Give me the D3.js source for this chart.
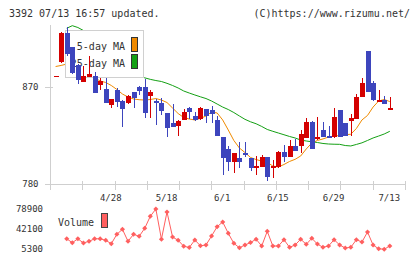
<!DOCTYPE html>
<html>
<head>
<meta charset="utf-8">
<title>3392 chart</title>
<script src="https://d3js.org/d3.v7.min.js"></script>
<style>
  body { margin: 0; background: #fff; }
  svg text { font-family: "DejaVu Sans Mono", monospace; fill: #333; }
</style>
</head>
<body>
<script>
// trading days 4/14 .. 7/13
var dates = ["4/14","4/15","4/16","4/17","4/20","4/21","4/22","4/23","4/24","4/27",
  "4/28","4/30","5/1","5/7","5/8","5/11","5/12","5/13","5/14","5/15",
  "5/18","5/19","5/20","5/21","5/22","5/25","5/26","5/27","5/28","5/29",
  "6/1","6/2","6/3","6/4","6/5","6/8","6/9","6/10","6/11","6/12",
  "6/15","6/16","6/17","6/18","6/19","6/22","6/23","6/24","6/25","6/26",
  "6/29","6/30","7/1","7/2","7/3","7/6","7/7","7/8","7/9","7/10","7/13"];

var open = [880.0, 893.5, 920.4, 906.8, 890.4, 874.9, 879.6, 880.2, 871.9, 868.1,
  853.3, 867.2, 857.0, 854.9, 865.1, 870.3, 870.3, 861.6, 857.0, 855.4,
  845.6, 836.9, 834.1, 839.4, 850.5, 843.1, 840.0, 849.6, 848.7, 839.4,
  823.3, 812.8, 800.7, 803.8, 808.5, 803.8, 795.5, 796.0, 804.8, 795.5,
  796.0, 809.7, 805.3, 815.3, 815.3, 823.0, 837.5, 821.5, 830.1, 824.5,
  823.9, 848.7, 836.9, 838.7, 840.3, 861.0, 903.4, 873.7, 857.0, 857.9, 850.2];
var high = [880.5, 921.0, 926.0, 907.5, 891.0, 889.5, 898.8, 884.2, 878.0, 878.7,
  859.0, 869.0, 857.5, 862.5, 865.5, 870.5, 877.1, 867.2, 858.9, 859.5,
  846.0, 854.2, 839.0, 849.6, 851.0, 847.1, 851.0, 850.0, 852.7, 843.1,
  824.0, 815.3, 809.0, 818.7, 818.7, 804.5, 806.0, 806.9, 805.0, 802.3,
  810.5, 816.2, 820.8, 821.5, 830.1, 841.0, 838.5, 841.9, 837.2, 833.8,
  850.2, 849.0, 837.0, 845.0, 863.5, 878.6, 903.5, 875.9, 867.2, 861.6, 860.4];
var low = [880.0, 892.0, 899.0, 882.5, 872.5, 874.5, 879.5, 864.0, 867.2, 855.0,
  850.2, 851.1, 833.2, 854.0, 850.2, 862.6, 841.0, 841.0, 834.8, 844.0,
  823.3, 833.0, 824.8, 839.0, 840.3, 838.5, 839.5, 836.3, 836.3, 824.5,
  788.4, 792.3, 790.0, 794.5, 804.8, 792.3, 788.4, 795.5, 783.0, 785.3,
  794.6, 800.7, 805.0, 810.5, 808.5, 822.5, 812.5, 821.0, 823.5, 822.5,
  822.9, 823.5, 824.5, 824.8, 840.0, 860.5, 865.0, 857.0, 857.0, 854.0, 850.0];
var close = [880.5, 920.4, 900.3, 883.3, 876.5, 880.2, 881.8, 864.7, 875.6, 855.4,
  858.9, 856.4, 849.6, 861.6, 860.1, 866.3, 846.2, 865.6, 854.9, 848.0,
  832.3, 833.2, 838.7, 846.8, 846.5, 839.4, 850.5, 843.4, 844.7, 824.8,
  803.8, 800.6, 808.4, 800.6, 806.9, 794.5, 796.7, 804.8, 786.9, 796.7,
  810.0, 805.3, 815.3, 811.0, 826.4, 837.5, 812.8, 823.3, 823.9, 823.0,
  842.2, 823.9, 824.8, 841.2, 860.7, 873.7, 865.6, 857.9, 857.9, 854.5, 850.5];

var ma5 = [889.0, 890.0, 891.3, 891.3, 888.6, 884.8, 881.1, 878.4, 875.6, 874.2,
  871.4, 867.7, 863.5, 860.7, 858.9, 858.2, 857.9, 858.4, 859.3, 857.9,
  855.6, 850.5, 845.4, 841.7, 840.3, 839.4, 840.8, 843.1, 846.8, 845.9,
  839.4, 830.1, 820.4, 813.4, 809.2, 804.6, 802.7, 801.3, 800.0, 796.7,
  795.8, 798.1, 800.9, 802.9, 806.0, 812.5, 818.0, 820.4, 821.8, 823.6,
  824.5, 825.0, 825.7, 826.2, 831.5, 839.4, 843.6, 851.4, 857.0, 858.4, 856.5];
var ma25 = [null, null, 924.5, 926.9, 925.2, 922.4, 919.2, 915.5, 911.8, 907.1,
  902.5, 897.8, 893.2, 888.6, 883.9, 880.2, 878.5, 877.1, 876.0, 875.1,
  873.4, 871.4, 869.1, 866.3, 864.4, 862.6, 860.9, 859.3, 857.0, 854.2,
  851.4, 849.1, 846.3, 843.1, 840.0, 837.7, 835.9, 833.4, 830.6, 828.9,
  827.3, 825.7, 824.1, 822.7, 820.8, 819.9, 819.2, 818.5, 817.6, 817.1,
  816.9, 816.8, 815.7, 815.3, 816.7, 818.2, 820.4, 822.7, 824.5, 826.4, 828.9];

var volume = [null, null, 23650, 16420, 23650, 15860, 19020, 23650, 23650, 20870,
  14570, 31990, 41260, 19020, 31990, 28290, 43120, 65370, 78900, 22910,
  73340, 26990, 20870, 9930, 7520, 21430, 10670, 12160, 28840, 46080,
  54800, 33850, 15310, 6960, 12160, 16790, 22910, 10300, 37560, 10300,
  10300, 21980, 7890, 12160, 22910, 13450, 24580, 14010, 7890, 10300,
  21980, 12160, 6590, 7890, 21980, 17720, 36260, 12160, 5110, 4370, 10300];

var dateTicks = ["4/28", "5/18", "6/1", "6/15", "6/29", "7/13"];
var priceTicks = [870, 780];
var volumeTicks = [78900, 42100, 5300];

var width = 420, height = 259;
var upColor = "#d40000", downColor = "#3d45bd";

var svg = d3.select("body").append("svg")
    .attr("width", width)
    .attr("height", height);

var x = d3.scalePoint().domain(dates).range([55.6, 389.8]);
var y = d3.scaleLinear().domain([780, 870]).range([184, 87]);
var yv = d3.scaleLinear().domain([5300, 78900]).range([248.7, 209]);
var grid = d3.scaleLinear().domain([0, 11]).range([50, 405]);

// header texts
svg.append("text").attr("x", 9).attr("y", 16.5)
    .style("font-size", "10px").text("3392 07/13 16:57 updated.");
svg.append("text").attr("x", 410).attr("y", 16.5).attr("text-anchor", "end")
    .style("font-size", "10px").text("(C)https://www.rizumu.net/");

// frame
var axisColor = "#cfcfcf";
svg.append("line").attr("x1", 50.5).attr("x2", 50.5).attr("y1", 25).attr("y2", 190)
    .attr("stroke", axisColor);
svg.append("line").attr("x1", 45).attr("x2", 405).attr("y1", y(780) + 0.5).attr("y2", y(780) + 0.5)
    .attr("stroke", axisColor);
svg.selectAll(".gtick").data(d3.range(12)).enter().append("line")
    .attr("x1", function(d) { return Math.round(grid(d)) + 0.5; })
    .attr("x2", function(d) { return Math.round(grid(d)) + 0.5; })
    .attr("y1", 181).attr("y2", 190)
    .attr("stroke", axisColor);
svg.selectAll(".ptick").data(priceTicks).enter().append("line")
    .attr("x1", 45).attr("x2", 53)
    .attr("y1", function(d) { return Math.round(y(d)) + 0.5; })
    .attr("y2", function(d) { return Math.round(y(d)) + 0.5; })
    .attr("stroke", axisColor);

// axes (labels only)
var yAxis = svg.append("g").attr("transform", "translate(50,0)")
    .call(d3.axisLeft(y).tickValues(priceTicks).tickSize(0).tickPadding(11.5));
var vAxis = svg.append("g").attr("transform", "translate(44,0)")
    .call(d3.axisLeft(yv).tickValues(volumeTicks).tickFormat(d3.format("d"))
        .tickSize(0).tickPadding(1));
var xAxis = svg.append("g").attr("transform", "translate(-1,184)")
    .call(d3.axisBottom(x).tickValues(dateTicks).tickSize(0).tickPadding(11));
[yAxis, vAxis, xAxis].forEach(function(g) {
    g.select(".domain").remove();
    g.selectAll("text").style("font-size", "9px").attr("font-family", null);
});

// moving averages
function maLine(values) {
    return d3.line()
        .defined(function(d) { return d != null; })
        .x(function(d, i) { return x(dates[i]); })
        .y(function(d) { return y(d); })(values);
}
svg.append("path").attr("d", maLine(ma5))
    .attr("fill", "none").attr("stroke", "#f08a00").attr("stroke-width", 1);
svg.append("path").attr("d", maLine(ma25))
    .attr("fill", "none").attr("stroke", "#14a014").attr("stroke-width", 1);

// legend (over the lines, under the candles)
var legend = svg.append("g");
legend.append("rect").attr("x", 65.5).attr("y", 30.5).attr("width", 78).attr("height", 47)
    .attr("fill", "#fff").attr("stroke", "#d0d0d0");
legend.append("text").attr("x", 125).attr("y", 50).attr("text-anchor", "end")
    .style("font-size", "10px").text("5-day MA");
legend.append("text").attr("x", 125).attr("y", 67).attr("text-anchor", "end")
    .style("font-size", "10px").text("25-day MA");
legend.append("rect").attr("x", 131.5).attr("y", 37.5).attr("width", 6).attr("height", 14)
    .attr("fill", "#f08a00").attr("stroke", "#333");
legend.append("rect").attr("x", 131.5).attr("y", 54.5).attr("width", 6).attr("height", 14)
    .attr("fill", "#14a014").attr("stroke", "#333");

// candles
var candles = svg.append("g").attr("shape-rendering", "crispEdges");
var idx = d3.range(dates.length);
candles.selectAll(".wick").data(idx).enter().append("line")
    .attr("x1", function(i) { return Math.round(x(dates[i])) + 0.5; })
    .attr("x2", function(i) { return Math.round(x(dates[i])) + 0.5; })
    .attr("y1", function(i) { return y(high[i]); })
    .attr("y2", function(i) { return y(low[i]); })
    .attr("stroke", function(i) { return close[i] >= open[i] ? upColor : downColor; });
candles.selectAll(".body").data(idx).enter().append("rect")
    .attr("x", function(i) { return Math.round(x(dates[i])) - 2; })
    .attr("width", 5)
    .attr("y", function(i) { return y(Math.max(open[i], close[i])); })
    .attr("height", function(i) { return Math.max(1.5, Math.abs(y(open[i]) - y(close[i]))); })
    .attr("fill", function(i) { return close[i] >= open[i] ? upColor : downColor; });

// volume
var volColor = "#ff5f5f";
svg.append("path")
    .attr("d", d3.line()
        .defined(function(d) { return d != null; })
        .x(function(d, i) { return x(dates[i]); })
        .y(function(d) { return yv(d); })(volume))
    .attr("fill", "none").attr("stroke", volColor).attr("stroke-width", 1);
var diamond = d3.symbol().type(d3.symbolSquare).size(13);
svg.selectAll(".vdot").data(idx.filter(function(i) { return volume[i] != null; }))
    .enter().append("path")
    .attr("d", diamond)
    .attr("transform", function(i) {
        return "translate(" + x(dates[i]) + "," + yv(volume[i]) + ") rotate(45)";
    })
    .attr("fill", volColor);

svg.append("text").attr("x", 58).attr("y", 226)
    .style("font-size", "10px").text("Volume");
svg.append("rect").attr("x", 101.5).attr("y", 213.5).attr("width", 6).attr("height", 14)
    .attr("fill", volColor).attr("stroke", "#444");
</script>
</body>
</html>
